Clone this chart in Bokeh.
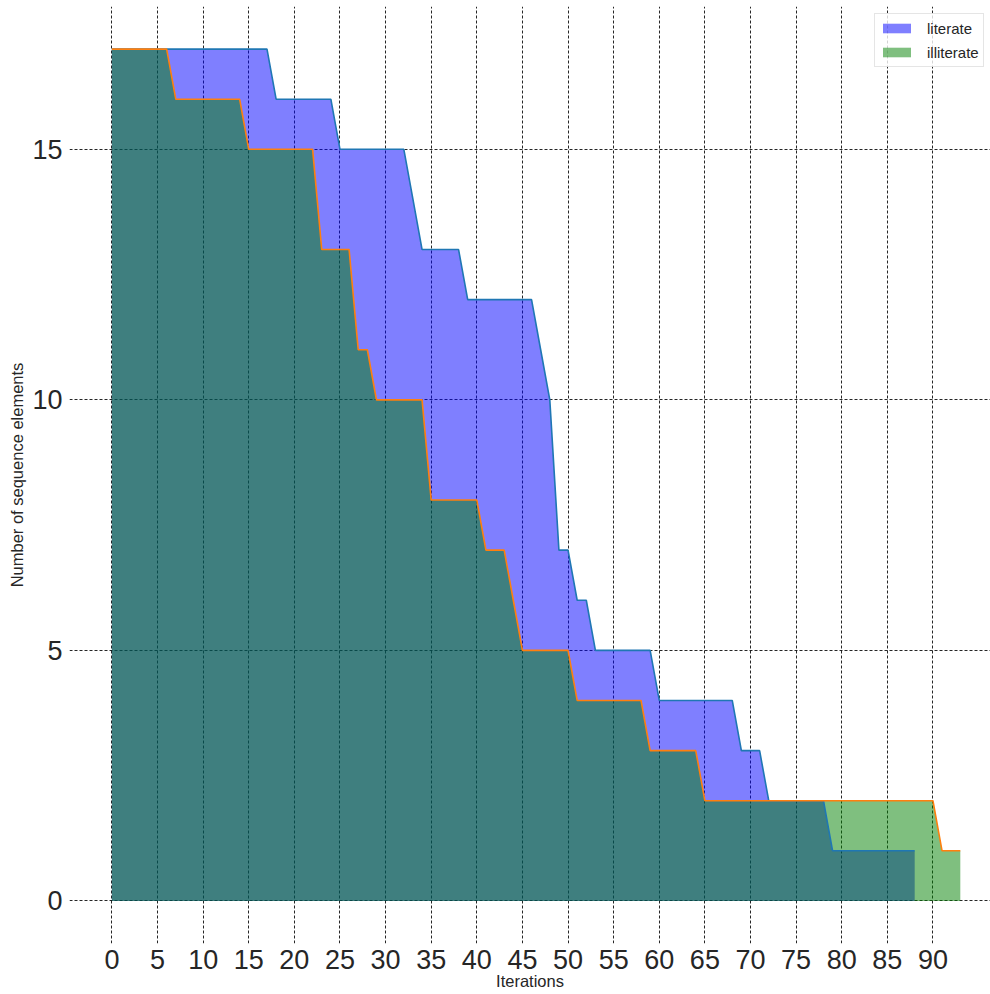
from bokeh.plotting import figure
from bokeh.models import FixedTicker, Range1d, Legend, LegendItem
from bokeh.embed import file_html
from bokeh.resources import INLINE

# ---- data ----
lit_iter = list(range(0, 89))
lit_vals = [17, 17, 17, 17, 17, 17, 17, 17, 17, 17, 17, 17, 17, 17, 17, 17, 17, 17,
            16, 16, 16, 16, 16, 16, 16,
            15, 15, 15, 15, 15, 15, 15, 15,
            14,
            13, 13, 13, 13, 13,
            12, 12, 12, 12, 12, 12, 12, 12,
            11,
            10,
            7, 7,
            6, 6,
            5, 5, 5, 5, 5, 5, 5,
            4, 4, 4, 4, 4, 4, 4, 4, 4,
            3, 3, 3,
            2, 2, 2, 2, 2, 2, 2,
            1, 1, 1, 1, 1, 1, 1, 1, 1, 1]

illit_iter = list(range(0, 94))
illit_vals = [17, 17, 17, 17, 17, 17, 17,
              16, 16, 16, 16, 16, 16, 16, 16,
              15, 15, 15, 15, 15, 15, 15, 15,
              13, 13, 13, 13,
              11, 11,
              10, 10, 10, 10, 10, 10,
              8, 8, 8, 8, 8, 8,
              7, 7, 7,
              6,
              5, 5, 5, 5, 5, 5,
              4, 4, 4, 4, 4, 4, 4, 4,
              3, 3, 3, 3, 3, 3,
              2, 2, 2, 2, 2, 2, 2, 2, 2, 2, 2, 2, 2, 2, 2, 2, 2, 2, 2, 2, 2, 2, 2, 2, 2, 2,
              1, 1, 1]

x_ticks = [0, 5, 10, 15, 20, 25, 30, 35, 40, 45, 50, 55, 60, 65, 70, 75, 80, 85, 90]
y_ticks = [0, 5, 10, 15]
series_labels = ["literate", "illiterate"]

FONT = "Liberation Sans"
TXT = "#262626"

p = figure(width=990, height=994, output_backend="svg", toolbar_location=None,
           x_range=Range1d(-4.65, 96.31), y_range=Range1d(-0.85, 17.85),
           min_border_left=69, min_border_right=0, min_border_top=6, min_border_bottom=51)
p.outline_line_color = None
p.background_fill_color = "white"
p.border_fill_color = "white"

zeros_lit = [0] * len(lit_iter)
zeros_illit = [0] * len(illit_iter)

a1 = p.varea(x=lit_iter, y1=zeros_lit, y2=lit_vals, fill_color="#0000ff", fill_alpha=0.5)
a2 = p.varea(x=illit_iter, y1=zeros_illit, y2=illit_vals, fill_color="#008000", fill_alpha=0.5)
p.line(lit_iter, lit_vals, line_color="#1f77b4", line_width=1.6)
p.line(illit_iter, illit_vals, line_color="#ff7f0e", line_width=1.6)

for ax in (p.xaxis[0], p.yaxis[0]):
    ax.axis_line_color = None
    ax.major_tick_line_color = None
    ax.minor_tick_line_color = None
    ax.major_tick_out = 0
    ax.major_tick_in = 0
    ax.minor_tick_out = 0
    ax.major_label_text_font = FONT
    ax.major_label_text_font_size = "27px"
    ax.major_label_text_color = TXT
    ax.axis_label_text_font = FONT
    ax.axis_label_text_font_size = "16.5px"
    ax.axis_label_text_font_style = "normal"
    ax.axis_label_text_color = TXT

p.xaxis.ticker = FixedTicker(ticks=x_ticks)
p.yaxis.ticker = FixedTicker(ticks=y_ticks)
p.xaxis.axis_label = "Iterations"
p.yaxis.axis_label = "Number of sequence elements"
p.xaxis.major_label_standoff = 6
p.xaxis.axis_label_standoff = 0
p.yaxis.major_label_standoff = 7
p.yaxis.axis_label_standoff = 3

for g in (p.xgrid[0], p.ygrid[0]):
    g.grid_line_color = "black"
    g.grid_line_alpha = 0.85
    g.grid_line_width = 1
    g.grid_line_dash = "3 2"

legend = Legend(items=[LegendItem(label=series_labels[0], renderers=[a1]),
                       LegendItem(label=series_labels[1], renderers=[a2])],
                location=(805, 876))
legend.label_text_font = FONT
legend.label_text_font_size = "15px"
legend.label_text_color = TXT
legend.glyph_width = 35
legend.glyph_height = 12
legend.label_height = 20
legend.label_standoff = 13
legend.spacing = 4
legend.padding = 4
legend.margin = 0
legend.border_line_color = "#cccccc"
legend.border_line_width = 1
legend.background_fill_color = "white"
legend.background_fill_alpha = 0.8
p.add_layout(legend, "center")

open("out.html", "w").write(file_html(p, INLINE))
